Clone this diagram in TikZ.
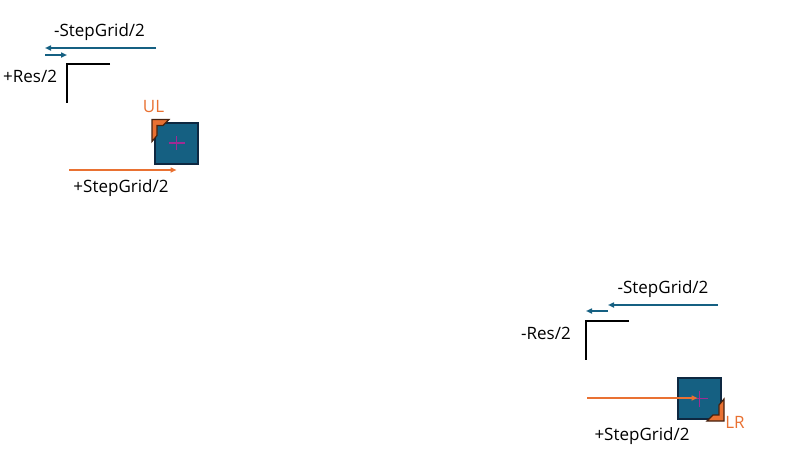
\documentclass[tikz,border=0pt]{standalone}
\usepackage{fontspec}
\setmainfont{Open Sans}
\usepackage{xcolor}
\usetikzlibrary{arrows.meta,calc}
\definecolor{accblue}{HTML}{156082}
\definecolor{accorange}{HTML}{E97132}
\definecolor{accmagenta}{HTML}{A02B93}
\definecolor{darkbase}{HTML}{0E2841}
\begin{document}
\begin{tikzpicture}[
  x=1pt,
  y=-1pt,
  font=\fontsize{17}{20}\selectfont,
  >={Triangle[length=6pt,width=5pt]},
  offset/.style={->, line width=1.6pt, draw=accblue},
  push/.style={->, line width=1.6pt, draw=accorange},
  frame/.style={line width=1.8pt, draw=black},
  cell/.style={draw=darkbase, fill=accblue, line width=2pt,
    minimum width=43pt, minimum height=41pt, inner sep=0pt},
  cross/.style={line width=1.6pt, draw=accmagenta},
  tab/.style={draw=accorange!30!black, fill=accorange, line width=1.2pt, line join=miter},
  lbl/.style={text=black, inner sep=0pt, anchor=base},
  tag/.style={text=accorange, inner sep=0pt, anchor=base}
]
\useasboundingbox (0,0) rectangle (790,466);

% upper left corner
\node[cell] (ulcell) at (176.5,143) {};
\coordinate (ulgridA) at (156,48);
\coordinate (ulgridB) at (45,48);
\coordinate (ulresA) at (45,55);
\coordinate (ulresB) at (67,55);
\coordinate (ulpush) at (69,170);
\draw[frame] (110,64) -- (67,64) -- (67,103);
\draw[offset] (ulgridA) -- (ulgridB);
\draw[offset] (ulresA) -- (ulresB);
\draw[tab] ($(ulcell.north west)+(-2,-2)$) -- ++(17,0) -- ++(-6,6) -- ++(-6,0)
  -- ++(0,10) -- ++(-5,6) -- cycle;
\draw[cross] ($(ulcell.center)+(-8,0)$) -- ($(ulcell.center)+(8,0)$);
\draw[cross] ($(ulcell.center)+(0,-7)$) -- ($(ulcell.center)+(0,7)$);
\draw[push] (ulpush) -- (ulcell.center |- ulpush);
\node[lbl] (ulgrid) at (99.5,36) {-StepGrid/2};
\node[lbl, anchor=base west] (ulres) at (3,82) {+Res/2};
\node[tag] (ultag) at (153.5,112) {UL};
\node[lbl] (ulstep) at (121,192) {+StepGrid/2};

% lower right corner
\node[cell] (lrcell) at (699.5,398.5) {};
\coordinate (lrgridA) at (718,305);
\coordinate (lrgridB) at (608,305);
\coordinate (lrresA) at (608,311);
\coordinate (lrresB) at (586,311);
\coordinate (lrpush) at (587,398);
\draw[frame] (629,321) -- (586,321) -- (586,360);
\draw[offset] (lrgridA) -- (lrgridB);
\draw[offset] (lrresA) -- (lrresB);
\draw[tab] ($(lrcell.south east)+(2,1)$) -- ++(-17,0) -- ++(6,-6) -- ++(6,0)
  -- ++(0,-10) -- ++(5,-6) -- cycle;
\draw[cross] ($(lrcell.center)+(-8,0)$) -- ($(lrcell.center)+(8,0)$);
\draw[cross] ($(lrcell.center)+(0,-8)$) -- ($(lrcell.center)+(0,8)$);
\draw[push] (lrpush) -- ($(lrcell.center |- lrpush)+(-2,0)$);
\node[lbl] (lrgrid) at (663,293) {-StepGrid/2};
\node[lbl] (lrres) at (546,339) {-Res/2};
\node[tag] (lrtag) at (735,428) {LR};
\node[lbl] (lrstep) at (642,440) {+StepGrid/2};
\end{tikzpicture}
\end{document}
